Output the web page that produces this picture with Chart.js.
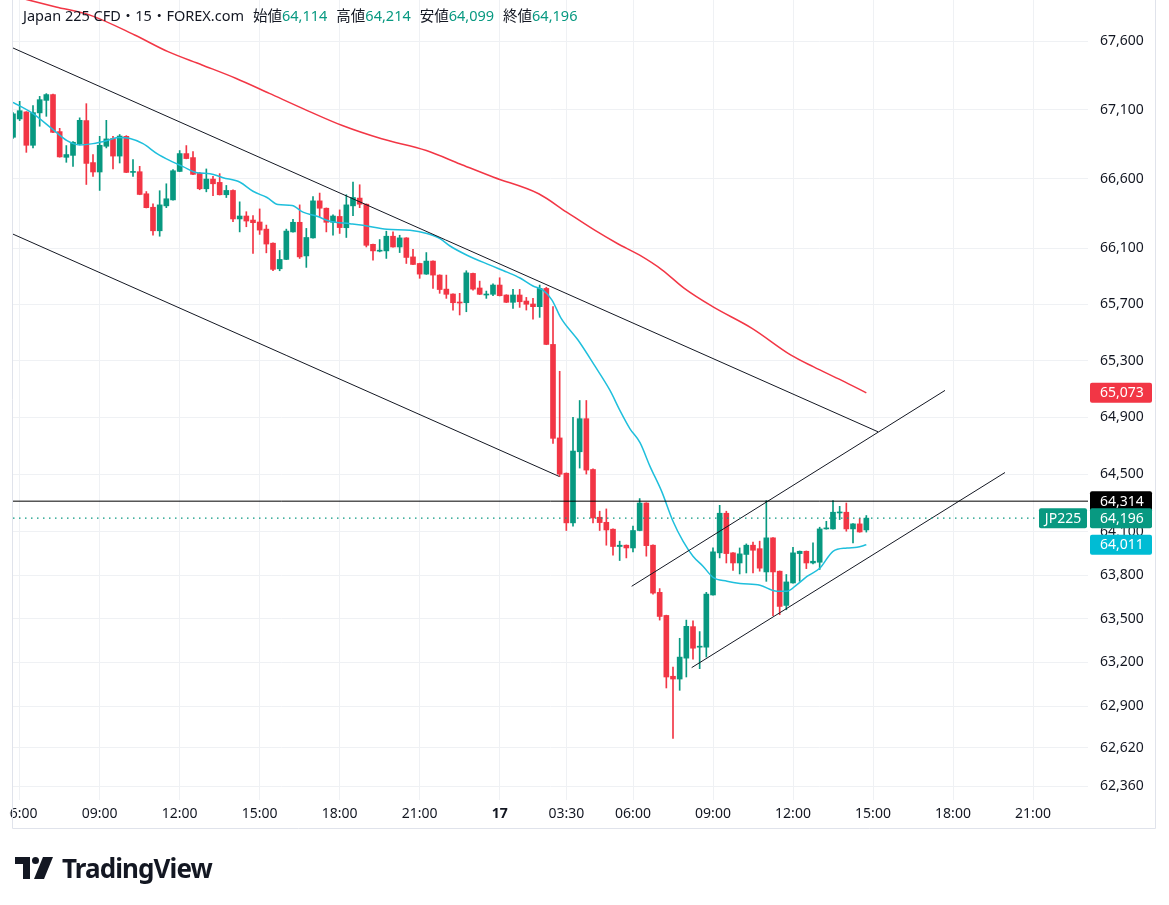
<!DOCTYPE html>
<html>
<head>
<meta charset="utf-8">
<script src="https://cdn.jsdelivr.net/npm/chart.js@4.4.1/dist/chart.umd.min.js"></script>
<style>
  html, body { margin: 0; padding: 0; background: #fff; }
  body { width: 1169px; height: 905px; overflow: hidden; position: relative;
         font-family: "Noto Sans", "Noto Sans CJK JP", sans-serif; color: #131722; }
  #chart { position: absolute; left: -30px; top: -30px; }
  #header { position: absolute; left: 23px; top: 5px; font-size: 14.5px; line-height: 20px; white-space: nowrap; }
  #header .k { margin-left: 9px; }
  #header .v { color: #089981; }
  #logo { position: absolute; left: 15px; top: 853px; height: 30px; display: flex; align-items: center; }
  #logo span { margin-left: 9px; font-size: 26px; font-weight: 700; letter-spacing: -0.9px; color: #131722; }
</style>
</head>
<body>
<canvas id="chart" width="1199" height="935"></canvas>
<div id="header">Japan 225 CFD・15・FOREX.com<span class="k">始値</span><span class="v" id="hO"></span><span class="k">高値</span><span class="v" id="hH"></span><span class="k">安値</span><span class="v" id="hL"></span><span class="k">終値</span><span class="v" id="hC"></span></div>
<div id="logo">
  <svg width="38" height="22" viewBox="0 0 38 22">
    <path d="M0 0 H15 V22 H8 V7 H0 Z" fill="#131722"/>
    <circle cx="20.5" cy="3.5" r="3.5" fill="#131722"/>
    <path d="M28 0 H38 L29 22 H19 Z" fill="#131722"/>
  </svg>
  <span>TradingView</span>
</div>
<script>
// 15分足 (index 0 = 05:45)
const opens = [66899,67032,67083,66841,67076,67167,67209,66940,66754,66768,
  66851,67020,66716,66648,66834,66890,66763,66906,66645,66650,
  66491,66394,66225,66404,66447,66652,66781,66752,66638,66527,
  66597,66573,66484,66515,66310,66331,66302,66288,66237,66136,
  65953,66020,66217,66286,66045,66174,66440,66387,66286,66328,
  66247,66404,66460,66416,66128,66079,66081,66186,66109,66174,
  66038,65991,65915,66008,65908,65808,65773,65714,65711,65920,
  65816,65766,65771,65837,65766,65714,65766,65723,65702,65683,
  65813,65415,64756,64509,64163,64659,64891,64535,64202,64167,
  64119,63999,64008,63989,64110,64301,64008,63682,63523,63106,
  63087,63230,63446,63305,63305,63664,63955,64230,63955,63885,
  63944,64008,63984,63823,64059,63828,63592,63747,63950,63966,
  63885,63890,64121,64121,64232,64237,64121,64156,64114];
const highs = [67078,67160,67085,67129,67196,67216,67212,66964,66839,66868,
  67040,67143,66774,66906,67022,66906,66919,66911,66737,66689,
  66507,66418,66513,66563,66665,66803,66839,66795,66645,66670,
  66616,66636,66551,66520,66433,66362,66334,66382,66266,66138,
  66084,66237,66307,66411,66242,66471,66496,66389,66339,66375,
  66484,66576,66556,66418,66130,66162,66222,66217,66193,66176,
  66093,65993,66069,66010,65910,65908,65775,65778,65939,65922,
  65865,65794,65846,65889,65768,65806,65806,65749,65742,65837,
  65821,65683,65225,64511,64901,65019,65019,64540,64244,64260,
  64121,64036,64010,64140,64332,64303,64010,63708,63525,63169,
  63366,63491,63486,63412,63682,63989,64285,64244,63957,63989,
  64017,64029,64036,64318,64061,63830,63805,63994,63968,63968,
  64024,64133,64174,64318,64278,64301,64158,64193,64214];
const lows = [66890,67020,66790,66822,66979,67051,66933,66755,66718,66689,
  66845,66558,66616,66515,66822,66670,66713,66643,66616,66484,
  66389,66194,66186,66391,66445,66650,66743,66629,66520,66505,
  66478,66482,66464,66290,66217,66254,66062,66199,66067,65939,
  65939,66018,66215,66027,65963,66172,66326,66217,66193,66206,
  66177,66334,66391,66109,66015,66074,66027,66107,66069,65991,
  65982,65885,65913,65813,65778,65742,65659,65624,65647,65801,
  65769,65742,65761,65759,65712,65671,65678,65659,65595,65607,
  65413,64717,64486,64110,64140,64545,64503,64163,64110,64008,
  63939,63902,63920,63962,64108,63932,63670,63491,63026,62682,
  63010,63101,63223,63158,63237,63662,63920,63885,63833,63809,
  63816,63816,63828,63758,63521,63528,63562,63745,63758,63846,
  63878,63840,64119,64119,64186,64105,64024,64098,64099];
const closes = [67069,67092,66841,67078,67172,67209,66935,66757,66774,66863,
  67022,66710,66648,66841,66887,66763,66908,66645,66650,66486,
  66391,66225,66411,66455,66657,66781,66745,66631,66527,66597,
  66563,66484,66515,66310,66331,66295,66283,66230,66130,65949,
  66020,66223,66286,66038,66177,66440,66387,66286,66331,66248,
  66411,66464,66416,66121,66081,66086,66186,66109,66174,66034,
  65984,65915,66008,65908,65805,65771,65711,65709,65924,65808,
  65771,65773,65837,65761,65714,65766,65718,65700,65683,65813,
  65415,64753,64502,64163,64664,64891,64531,64197,64165,64114,
  63999,64008,63989,64110,64301,64005,63677,63516,63101,63087,
  63237,63448,63298,63312,63670,63962,64230,63950,63885,63948,
  64008,63973,63849,64059,63823,63585,63754,63955,63966,63885,
  63897,64121,64128,64237,64239,64121,64156,64100,64196];

// 移動平均線
const maFastIdx = [0,3,6,8.1,10,12,14.1,15.75,17.55,19.5,21.6,23.55,25.5,27.6,29.55,31.5,34.05,36,38.1,39.75,
  41.85,43.5,45.6,47.55,50.55,52.5,56.1,59.55,62.1,64.05,65.55,68.1,71.55,74.1,76.05,78,79.5,80.85,82.2,84.75,
  87.3,89.55,91.05,92.55,94.05,95.55,97.3,99,100.5,102,103.5,105,107.1,109.05,112.05,114.6,116.1,117.6,119.1,121.05,
  123,125.1,126.6,128];
const maFastVal = [67153,67071,66955,66875,66844,66853,66875,66897,66890,66853,66781,66730,66687,66643,66636,66607,66574,66509,66464,66414,
  66407,66359,66329,66293,66276,66264,66236,66229,66205,66169,66116,66050,65979,65929,65887,65830,65801,65730,65602,65446,
  65261,65090,64948,64820,64723,64557,64382,64174,64036,63932,63863,63786,63759,63743,63731,63690,63690,63736,63792,63850,
  63966,63989,63994,64011];
const maSlowIdx = [0,6.45,11.55,18.25,23.25,28.35,33.4,38.45,43.5,49.4,55.3,62,67.05,72.1,78.85,83.05,87.25,90.65,94,97.4,
  100.7,104.95,110.85,116.7,120.1,124.3,128];
const maSlowVal = [67930,67850,67790,67644,67522,67425,67328,67218,67107,66984,66888,66803,66706,66610,66491,66359,66229,66134,66050,65944,
  65813,65683,65529,65339,65256,65161,65073];

// トレンドライン [index, price]
const channelDownTop = [[0, 67549], [129.75, 64799]];
const channelDownBottom = [[0, 66201], [81.95, 64486]];
const channelUpTop = [[92.8, 63724], [139.8, 65090]];
const channelUpBottom = [[101.8, 63165], [148.8, 64514]];
const levelLine = 64314;

// 軸
const xTickIdx = [1, 13, 25, 37, 49, 61, 73, 83, 93, 105, 117, 129, 141, 153];
const xTickLabels = ['06:00','09:00','12:00','15:00','18:00','21:00','17','03:30','06:00','09:00','12:00','15:00','18:00','21:00'];
const yTicks = [67600, 67100, 66600, 66100, 65700, 65300, 64900, 64500, 64100, 63800, 63500, 63200, 62900, 62620, 62360];
const xMax = 161.25;
const yMin = 62266, yMax = 67901;

// 右側の価格ラベル
const tagValues = [65073, 64314, 64196, 64011];

const GREEN = '#089981', RED = '#f23645', CYAN = '#1fbfdc', INK = '#131722', GRID = '#eff1f4';
const FONT = '"Noto Sans", "Noto Sans CJK JP", sans-serif';
const tagColors = [RED, '#000000', GREEN, '#00bcd4'];

const last = closes.length - 1;
const fmt = v => v.toLocaleString('en-US');
document.getElementById('hO').textContent = fmt(opens[last]);
document.getElementById('hH').textContent = fmt(highs[last]);
document.getElementById('hL').textContent = fmt(lows[last]);
document.getElementById('hC').textContent = fmt(closes[last]);

const candleColors = opens.map((o, i) => closes[i] >= o ? GREEN : RED);
const wicks = opens.map((o, i) => ({ x: i, y: [lows[i], highs[i]] }));
const bodies = opens.map((o, i) => ({ x: i, y: [o, closes[i]] }));
const pts = arr => arr.map(p => ({ x: p[0], y: p[1] }));

function lineSet(data, color, width, extra) {
  return Object.assign({
    type: 'line', data: data, borderColor: color, borderWidth: width,
    pointRadius: 0, fill: false, order: 1
  }, extra || {});
}

const overlay = {
  id: 'overlay',
  afterDraw(chart) {
    const { ctx, chartArea: a, scales: { y } } = chart;
    ctx.save();
    // 左端のラベルを切る
    ctx.fillStyle = '#fff';
    ctx.fillRect(0, a.bottom + 1, a.left - 4, 27);
    // 枠線
    ctx.strokeStyle = '#e0e3eb';
    ctx.lineWidth = 1;
    ctx.beginPath();
    ctx.moveTo(a.left - 0.5, 0); ctx.lineTo(a.left - 0.5, a.bottom + 28.5);
    ctx.lineTo(a.right + 67.5, a.bottom + 28.5); ctx.lineTo(a.right + 67.5, 0);
    ctx.stroke();
    // 価格ラベル
    ctx.font = '14px ' + FONT;
    ctx.textBaseline = 'middle';
    tagValues.forEach((v, i) => {
      const py = y.getPixelForValue(v);
      ctx.fillStyle = tagColors[i];
      ctx.beginPath();
      ctx.roundRect(a.right + 2, py - 10, 62, 20, 2);
      ctx.fill();
      ctx.fillStyle = '#fff';
      ctx.textAlign = 'left';
      ctx.fillText(fmt(v), a.right + 12, py + 0.5);
      if (i === 2) {
        ctx.fillStyle = GREEN;
        ctx.beginPath();
        ctx.roundRect(a.right - 49, py - 10, 48, 20, 2);
        ctx.fill();
        ctx.fillStyle = '#fff';
        ctx.textAlign = 'center';
        ctx.fillText('JP225', a.right - 25, py + 0.5);
      }
    });
    ctx.restore();
  }
};

new Chart(document.getElementById('chart'), {
  type: 'bar',
  data: {
    datasets: [
      lineSet(pts([[0, levelLine], [xMax, levelLine]]), '#000000', 1),
      lineSet(pts([[0, closes[last]], [153.9, closes[last]]]), GREEN, 1.2, { borderDash: [1.5, 4.5] }),
      lineSet(pts(channelDownTop), INK, 1),
      lineSet(pts(channelDownBottom), INK, 1),
      lineSet(pts(channelUpTop), INK, 1),
      lineSet(pts(channelUpBottom), INK, 1),
      lineSet(maFastIdx.map((x, i) => ({ x: x, y: maFastVal[i] })), CYAN, 1.5, { cubicInterpolationMode: 'monotone' }),
      lineSet(maSlowIdx.map((x, i) => ({ x: x, y: maSlowVal[i] })), RED, 1.5, { cubicInterpolationMode: 'monotone' }),
      { type: 'bar', data: wicks, backgroundColor: candleColors, barThickness: 1, grouped: false, order: 2 },
      { type: 'bar', data: bodies, backgroundColor: candleColors, barThickness: 5, grouped: false, minBarLength: 1, order: 2 }
    ]
  },
  options: {
    responsive: false,
    animation: false,
    layout: { padding: { left: 43, top: 30, right: 14, bottom: 77 } },
    plugins: { legend: { display: false }, tooltip: { enabled: false } },
    scales: {
      x: {
        type: 'linear', min: 0, max: xMax, bounds: 'data', offset: false,
        grid: { color: GRID, drawTicks: false, offset: false },
        border: { display: false },
        afterBuildTicks: s => { s.ticks = xTickIdx.map(v => ({ value: v })); },
        afterFit: s => { s.height = 28; },
        ticks: {
          autoSkip: false, maxRotation: 0, padding: 6, color: INK,
          font: c => ({ family: FONT, size: 14, weight: xTickLabels[c.index] === '17' ? 'bold' : 'normal' }),
          callback: (v, i) => xTickLabels[i]
        }
      },
      y: {
        type: 'logarithmic', position: 'right', min: yMin, max: yMax, bounds: 'data', beginAtZero: false,
        grid: { color: GRID, drawTicks: false },
        border: { display: false },
        afterBuildTicks: s => { s.ticks = yTicks.map(v => ({ value: v })); },
        afterFit: s => { s.width = 67; },
        ticks: {
          autoSkip: false, padding: 12, color: INK,
          font: { family: FONT, size: 14 },
          callback: v => fmt(v)
        }
      }
    }
  },
  plugins: [overlay]
});
</script>
</body>
</html>
